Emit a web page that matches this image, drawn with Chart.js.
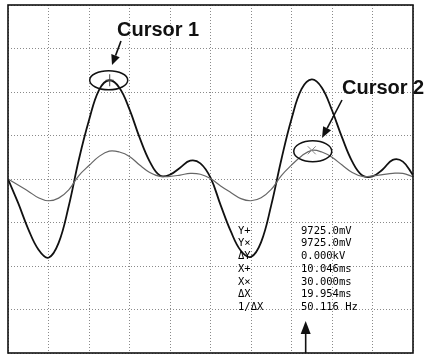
<!DOCTYPE html>
<html>
<head>
<meta charset="utf-8">
<script src="https://cdn.jsdelivr.net/npm/chart.js@4"></script>
<style>
  body { margin: 0; background: #fff; }
  #wrap { width: 429px; height: 355px; }
</style>
</head>
<body>
<div id="wrap"><canvas id="scope" width="429" height="355"></canvas></div>
<script>
// time base: 4 ms/div, 10 divisions
const timeMs = [0, 1, 2, 3, 4, 5, 6, 7, 8, 9, 10, 11, 12, 13, 14, 15, 16, 17, 18, 19, 20,
  21, 22, 23, 24, 25, 26, 27, 28, 29, 30, 31, 32, 33, 34, 35, 36, 37, 38, 39, 40];

// channel traces, in screen divisions
const traceA = [0, -0.55, -1.15, -1.62, -1.81, -1.47, -0.62, 0.45, 1.35, 2.05, 2.27, 2.1, 1.6, 0.95, 0.4, 0.08, 0.1, 0.26, 0.42, 0.36, 0.03,
  -0.6, -1.2, -1.65, -1.79, -1.45, -0.6, 0.45, 1.38, 2.07, 2.29, 2.1, 1.58, 0.95, 0.4, 0.08, 0.06, 0.22, 0.44, 0.4, 0.09];
const traceB = [0, -0.14, -0.28, -0.43, -0.5, -0.44, -0.25, 0.08, 0.31, 0.52, 0.64, 0.62, 0.52, 0.32, 0.15, 0.06, 0.06, 0.09, 0.13, 0.11, 0.01,
  -0.16, -0.31, -0.45, -0.5, -0.43, -0.24, 0.08, 0.32, 0.53, 0.66, 0.62, 0.5, 0.32, 0.15, 0.06, 0.07, 0.1, 0.13, 0.13, 0.05];

// cursor positions (ms) and the readout panel
const cursor1 = { t: 10.046, v: 2.27 };
const cursor2 = { t: 30.0, v: 0.66 };
const readLabels = ["Y+", "Y\u00d7", "\u0394Y", "X+", "X\u00d7", "\u0394X", "1/\u0394X"];
const readValues = ["9725.0mV", "9725.0mV", "0.000kV", "10.046ms", "30.000ms", "19.954ms", "50.116 Hz"];

function arrow(ctx, x1, y1, x2, y2, head, wing) {
  const a = Math.atan2(y2 - y1, x2 - x1);
  const bx = x2 - head * Math.cos(a), by = y2 - head * Math.sin(a);
  ctx.beginPath();
  ctx.moveTo(x1, y1);
  ctx.lineTo(bx, by);
  ctx.stroke();
  ctx.beginPath();
  ctx.moveTo(x2, y2);
  ctx.lineTo(bx + wing * Math.sin(a), by - wing * Math.cos(a));
  ctx.lineTo(bx - wing * Math.sin(a), by + wing * Math.cos(a));
  ctx.closePath();
  ctx.fill();
}

const overlay = {
  id: "overlay",
  afterDatasetsDraw(chart) {
    const ctx = chart.ctx;
    const area = chart.chartArea;
    const xs = chart.scales.x, ys = chart.scales.y;
    ctx.save();

    // frame
    ctx.strokeStyle = "#111";
    ctx.lineWidth = 1.6;
    ctx.strokeRect(area.left, area.top, area.right - area.left, area.bottom - area.top);

    // cursor markers
    const c1x = xs.getPixelForValue(cursor1.t), c1y = ys.getPixelForValue(cursor1.v);
    const c2x = xs.getPixelForValue(cursor2.t), c2y = ys.getPixelForValue(cursor2.v);
    ctx.lineWidth = 1;
    ctx.strokeStyle = "#444";
    ctx.beginPath();
    ctx.moveTo(c1x, c1y - 6); ctx.lineTo(c1x, c1y + 6);
    ctx.moveTo(c1x - 4, c1y); ctx.lineTo(c1x + 4, c1y);
    ctx.stroke();
    ctx.strokeStyle = "#888";
    ctx.beginPath();
    ctx.moveTo(c2x - 4, c2y - 4); ctx.lineTo(c2x + 4, c2y + 4);
    ctx.moveTo(c2x - 4, c2y + 4); ctx.lineTo(c2x + 4, c2y - 4);
    ctx.stroke();

    // ellipses round the cursors
    ctx.strokeStyle = "#111";
    ctx.lineWidth = 1.5;
    ctx.beginPath();
    ctx.ellipse(c1x - 1, c1y, 19, 9.5, 0, 0, Math.PI * 2);
    ctx.stroke();
    ctx.beginPath();
    ctx.ellipse(c2x + 1, c2y + 1, 19, 10.5, 0, 0, Math.PI * 2);
    ctx.stroke();

    // callout text and arrows
    ctx.fillStyle = "#111";
    ctx.font = "bold 20px 'Liberation Sans', Arial, sans-serif";
    ctx.textBaseline = "alphabetic";
    ctx.textAlign = "left";
    ctx.fillText("Cursor 1", 117, 36);
    ctx.fillText("Cursor 2", 342, 94);
    ctx.lineWidth = 1.6;
    arrow(ctx, 121, 41, 112, 65, 10, 4.5);
    arrow(ctx, 342, 100, 322, 138, 11, 4.5);
    arrow(ctx, xs.getPixelForValue(29.4), area.bottom, xs.getPixelForValue(29.4), 321, 13, 5);

    // readout panel
    ctx.font = "10.5px 'DejaVu Sans Mono', monospace";
    ctx.textBaseline = "middle";
    ctx.fillStyle = "#000";
    readLabels.forEach((s, i) => {
      const y = 231 + i * 12.7;
      ctx.fillText(s, 238, y);
      ctx.fillText(readValues[i], 301, y);
    });
    ctx.restore();
  }
};

const gridOpts = {
  color: "#8a8a8a",
  lineWidth: 1,
  drawTicks: false
};

new Chart(document.getElementById("scope"), {
  type: "line",
  data: {
    datasets: [
      {
        data: timeMs.map((t, i) => ({ x: t, y: traceB[i] })),
        borderColor: "#666",
        borderWidth: 1.2
      },
      {
        data: timeMs.map((t, i) => ({ x: t, y: traceA[i] })),
        borderColor: "#111",
        borderWidth: 1.8
      }
    ]
  },
  options: {
    responsive: false,
    animation: false,
    layout: { padding: { left: 8, right: 16, top: 5, bottom: 2 } },
    elements: {
      point: { radius: 0 },
      line: { tension: 0.4 }
    },
    plugins: {
      legend: { display: false },
      tooltip: { enabled: false }
    },
    scales: {
      x: {
        type: "linear",
        min: 0,
        max: 40,
        ticks: { display: false, stepSize: 4 },
        grid: gridOpts,
        border: { display: false, dash: [1, 2] }
      },
      y: {
        min: -4,
        max: 4,
        ticks: { display: false, stepSize: 1 },
        grid: gridOpts,
        border: { display: false, dash: [1, 2] }
      }
    }
  },
  plugins: [overlay]
});
</script>
</body>
</html>
